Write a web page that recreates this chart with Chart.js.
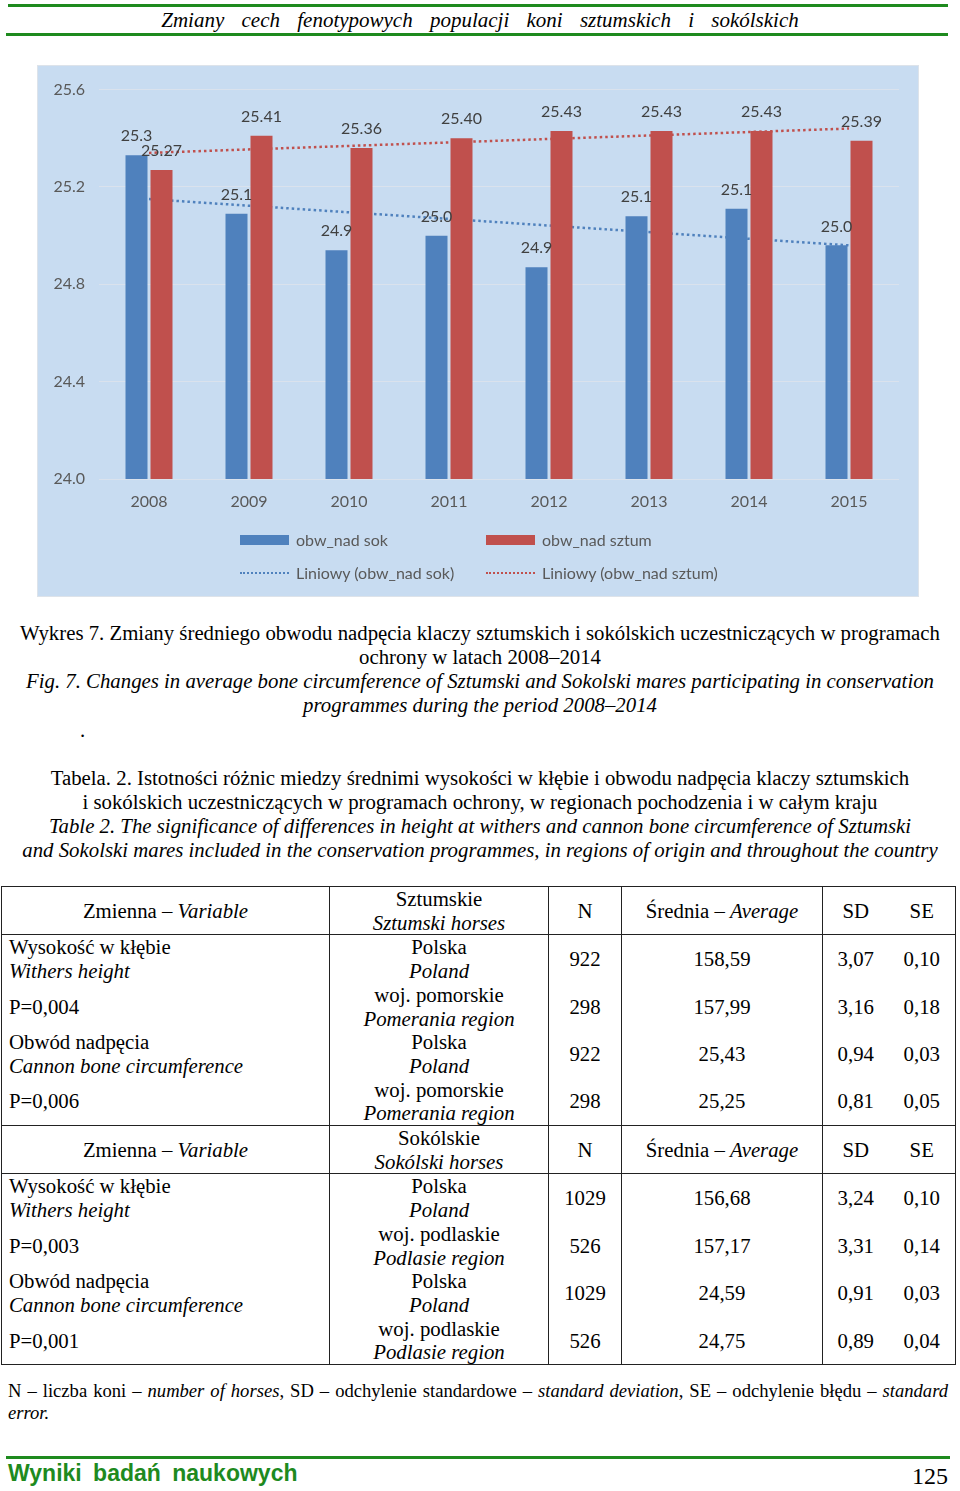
<!DOCTYPE html>
<html>
<head>
<meta charset="utf-8">
<script src="https://cdn.jsdelivr.net/npm/chart.js@4.4.0/dist/chart.umd.min.js"></script>
<style>
body{margin:0;width:960px;height:1491px;position:relative;background:#fff;overflow:hidden;
  font-family:"Liberation Serif","Times New Roman",serif;color:#000}
.gline{position:absolute;background:#1e8a1e;height:3px}
.txt{position:absolute;left:0;width:960px;text-align:center;font-size:20.8px;line-height:24px;white-space:nowrap}
#chartBox{position:absolute;left:38px;top:66px;width:880px;height:530px;background:#c8dcf1;outline:1px solid #dde3ea}
#chartBox canvas{position:absolute;left:0;top:0}
#legend{position:absolute;left:202px;top:457px;display:grid;grid-template-columns:246px 246px;grid-auto-rows:33px;
  font-family:Lato,"Open Sans",sans-serif;font-size:16px;color:#595959}
#legend .item{display:flex;align-items:center;white-space:nowrap}
#legend .sw{width:49px;margin-right:7px}
table{position:absolute;left:1px;top:886px;width:954px;border-collapse:collapse;table-layout:fixed;border:1.5px solid #222}
td{border-left:1px solid #222;border-right:1px solid #222;padding:0;height:46px;line-height:23.7px;
  text-align:center;vertical-align:middle;font-size:20.8px;white-space:nowrap}
td.c1{text-align:left;padding-left:7px}
td.sd{border-right:none}
td.se{border-left:none}
tr.h td{border-top:1px solid #222;border-bottom:1px solid #222}
td.hc1{text-align:center}
#note{position:absolute;left:8px;top:1380px;width:940px;font-size:18.6px;line-height:22px;text-align:justify;text-align-last:left}
#foot{position:absolute;left:8px;top:1459px;font-family:"Liberation Sans",Arial,sans-serif;font-weight:bold;font-size:23px;color:#1e8a1e;word-spacing:5px;line-height:28px}
#page{position:absolute;right:12px;top:1462px;font-size:24px;line-height:28px}
</style>
</head>
<body>
<div class="gline" style="left:8px;top:4px;width:940px"></div>
<div class="txt" style="top:8px;font-size:21px;font-style:italic;word-spacing:12px">Zmiany cech fenotypowych populacji koni sztumskich i sokólskich</div>
<div class="gline" style="left:6px;top:33px;width:942px"></div>

<div id="chartBox">
  <canvas id="chart" width="880" height="530"></canvas>
  <div id="legend"></div>
</div>

<div class="txt" style="top:621px">Wykres 7. Zmiany średniego obwodu nadpęcia klaczy sztumskich i sokólskich uczestniczących w programach<br>ochrony w latach 2008–2014<br><i>Fig. 7. Changes in average bone circumference of Sztumski and Sokolski mares participating in conservation<br>programmes during the period 2008–2014</i></div>
<div class="txt" style="top:718px;left:80px;width:auto;text-align:left">.</div>

<div class="txt" style="top:766px">Tabela. 2. Istotności różnic miedzy średnimi wysokości w kłębie i obwodu nadpęcia klaczy sztumskich<br>i sokólskich uczestniczących w programach ochrony, w regionach pochodzenia i w całym kraju<br><i>Table 2. The significance of differences in height at withers and cannon bone circumference of Sztumski<br>and Sokolski mares included in the conservation programmes, in regions of origin and throughout the country</i></div>

<table>
  <colgroup><col style="width:328px"><col style="width:219px"><col style="width:73px"><col style="width:201px"><col style="width:66px"><col style="width:67px"></colgroup>
  <tr class="h"><td class="hc1">Zmienna – <i>Variable</i></td><td>Sztumskie<br><i>Sztumski horses</i></td><td>N</td><td>Średnia – <i>Average</i></td><td class="sd">SD</td><td class="se">SE</td></tr>
  <tr><td class="c1">Wysokość w kłębie<br><i>Withers height</i></td><td>Polska<br><i>Poland</i></td><td>922</td><td>158,59</td><td class="sd">3,07</td><td class="se">0,10</td></tr>
  <tr><td class="c1">P=0,004</td><td>woj. pomorskie<br><i>Pomerania region</i></td><td>298</td><td>157,99</td><td class="sd">3,16</td><td class="se">0,18</td></tr>
  <tr><td class="c1">Obwód nadpęcia<br><i>Cannon bone circumference</i></td><td>Polska<br><i>Poland</i></td><td>922</td><td>25,43</td><td class="sd">0,94</td><td class="se">0,03</td></tr>
  <tr><td class="c1">P=0,006</td><td>woj. pomorskie<br><i>Pomerania region</i></td><td>298</td><td>25,25</td><td class="sd">0,81</td><td class="se">0,05</td></tr>
  <tr class="h"><td class="hc1">Zmienna – <i>Variable</i></td><td>Sokólskie<br><i>Sokólski horses</i></td><td>N</td><td>Średnia – <i>Average</i></td><td class="sd">SD</td><td class="se">SE</td></tr>
  <tr><td class="c1">Wysokość w kłębie<br><i>Withers height</i></td><td>Polska<br><i>Poland</i></td><td>1029</td><td>156,68</td><td class="sd">3,24</td><td class="se">0,10</td></tr>
  <tr><td class="c1">P=0,003</td><td>woj. podlaskie<br><i>Podlasie region</i></td><td>526</td><td>157,17</td><td class="sd">3,31</td><td class="se">0,14</td></tr>
  <tr><td class="c1">Obwód nadpęcia<br><i>Cannon bone circumference</i></td><td>Polska<br><i>Poland</i></td><td>1029</td><td>24,59</td><td class="sd">0,91</td><td class="se">0,03</td></tr>
  <tr><td class="c1">P=0,001</td><td>woj. podlaskie<br><i>Podlasie region</i></td><td>526</td><td>24,75</td><td class="sd">0,89</td><td class="se">0,04</td></tr>
</table>

<div id="note">N – liczba koni – <i>number of horses</i>, SD – odchylenie standardowe – <i>standard deviation</i>, SE – odchylenie błędu – <i>standard error.</i></div>

<div class="gline" style="left:6px;top:1456px;width:944px"></div>
<div id="foot">Wyniki badań naukowych</div>
<div id="page">125</div>

<script>
const years = ['2008', '2009', '2010', '2011', '2012', '2013', '2014', '2015'];
const sokValues = [25.33, 25.09, 24.94, 25.00, 24.87, 25.08, 25.11, 24.96];
const sztumValues = [25.27, 25.41, 25.36, 25.40, 25.43, 25.43, 25.43, 25.39];
// trend lines: only the two ends, gaps spanned
const sokTrend = [25.15, null, null, null, null, null, null, 24.96];
const sztumTrend = [25.34, null, null, null, null, null, null, 25.44];
const yTicks = [24.0, 24.4, 24.8, 25.2, 25.6];
const seriesNames = ['obw_nad sok', 'obw_nad sztum', 'Liniowy (obw_nad sok)', 'Liniowy (obw_nad sztum)'];

const blue = '#4f81bd';
const red = '#c0504d';
const font = 'Lato, "Open Sans", sans-serif';

const barLabels = {
  id: 'barLabels',
  afterDatasetsDraw(chart){
    const ctx = chart.ctx;
    ctx.save();
    ctx.font = '16px ' + font;
    ctx.fillStyle = '#404040';
    ctx.textAlign = 'center';
    ctx.textBaseline = 'middle';
    chart.data.datasets.forEach((ds, i) => {
      if (ds.type !== 'bar') return;
      chart.getDatasetMeta(i).data.forEach((bar, j) => {
        ctx.fillText(ds.data[j].toFixed(ds.labelDigits), bar.x, bar.y - 19);
      });
    });
    ctx.restore();
  }
};

const chart = new Chart(document.getElementById('chart'), {
  type: 'bar',
  data: {
    labels: years,
    datasets: [
      { type: 'bar', label: seriesNames[0], data: sokValues, backgroundColor: blue, labelDigits: 1,
        categoryPercentage: 0.5, barPercentage: 0.88, order: 1 },
      { type: 'bar', label: seriesNames[1], data: sztumValues, backgroundColor: red, labelDigits: 2,
        categoryPercentage: 0.5, barPercentage: 0.88, order: 1 },
      { type: 'line', label: seriesNames[2], data: sokTrend, borderColor: blue, borderWidth: 2.5,
        borderDash: [2.5, 3], pointRadius: 0, spanGaps: true, fill: false, order: 2 },
      { type: 'line', label: seriesNames[3], data: sztumTrend, borderColor: red, borderWidth: 2.5,
        borderDash: [2.5, 3], pointRadius: 0, spanGaps: true, fill: false, order: 2 }
    ]
  },
  options: {
    responsive: false,
    animation: false,
    layout: { padding: { left: 15, top: 19, right: 19, bottom: 82 } },
    plugins: { legend: { display: false }, tooltip: { enabled: false } },
    scales: {
      x: {
        afterFit: s => { s.height = 35; },
        grid: { display: false, drawTicks: false },
        border: { display: false },
        ticks: { color: '#595959', font: { family: font, size: 16 }, padding: 13 }
      },
      y: {
        min: 24.0, max: 25.6,
        afterBuildTicks: s => { s.ticks = yTicks.map(v => ({ value: v })); },
        afterFit: s => { s.width = 46; },
        grid: { color: 'rgba(240,232,232,0.45)', drawTicks: false },
        border: { display: false },
        ticks: { color: '#595959', font: { family: font, size: 16 }, padding: 14,
          callback: v => Number(v).toFixed(1) }
      }
    }
  },
  plugins: [barLabels]
});

// legend built from the chart's own datasets
const legend = document.getElementById('legend');
chart.data.datasets.forEach(ds => {
  const item = document.createElement('div');
  item.className = 'item';
  const sw = document.createElement('span');
  sw.className = 'sw';
  if (ds.type === 'bar') {
    sw.style.height = '10px';
    sw.style.background = ds.backgroundColor;
  } else {
    sw.style.height = '0';
    sw.style.borderTop = '2px dotted ' + ds.borderColor;
  }
  item.appendChild(sw);
  item.appendChild(document.createTextNode(ds.label));
  legend.appendChild(item);
});
</script>
</body>
</html>
